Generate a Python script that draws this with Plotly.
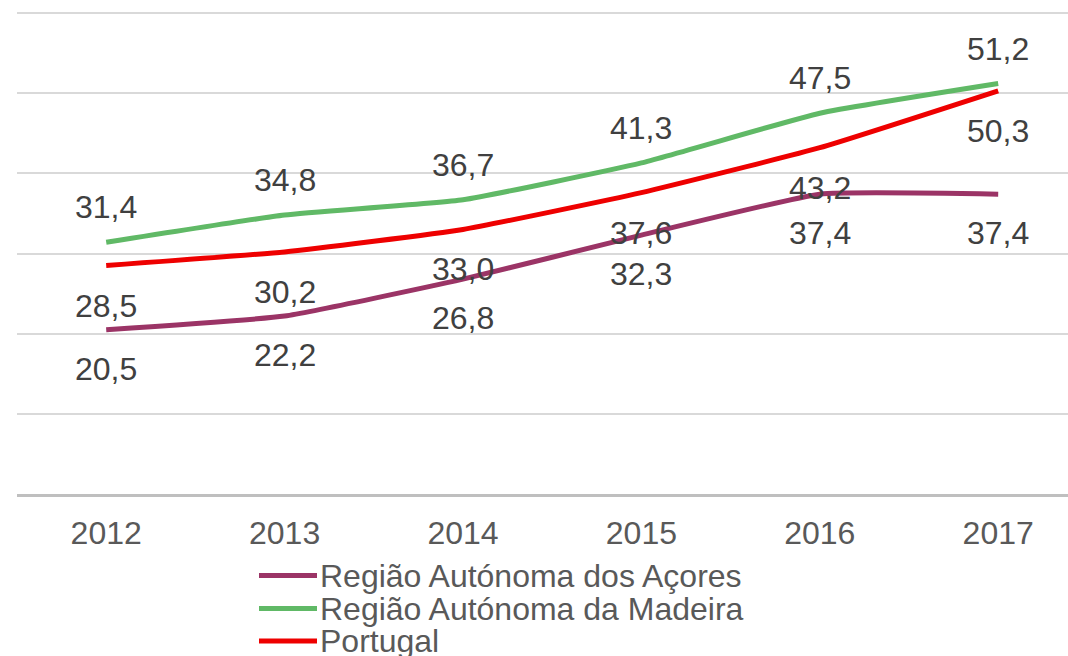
import plotly.graph_objects as go

years = ["2012", "2013", "2014", "2015", "2016", "2017"]
acores = [20.5, 22.2, 26.8, 32.3, 37.4, 37.4]
madeira = [31.4, 34.8, 36.7, 41.3, 47.5, 51.2]
portugal = [28.5, 30.2, 33.0, 37.6, 43.2, 50.3]

names = ["Região Autónoma dos Açores", "Região Autónoma da Madeira", "Portugal"]
colors = ["#9b3466", "#60b966", "#ee0000"]
series = [acores, madeira, portugal]
label_shift = [-39, 35, -40]  # below, above, below

FONT = "Liberation Sans, Arial, sans-serif"
W, H = 1068, 656
PX_PER_UNIT = 8.017
Y_TOP = 61
ML, MB = 17, 162
MT = round(13 - (Y_TOP - 60) * PX_PER_UNIT)
plot_h = H - MT - MB
plot_w = W - ML

fig = go.Figure()
for name, vals, col in zip(names, series, colors):
    fig.add_trace(go.Scatter(
        x=years, y=vals, mode="lines", name=name,
        line=dict(color=col, width=5, shape="spline", smoothing=0.4),
        showlegend=False, hoverinfo="skip"))

annotations = []
for vals, shift in zip(series, label_shift):
    for i, v in enumerate(vals):
        annotations.append(dict(
            x=i, y=v, xref="x", yref="y", text=f"{v:.1f}".replace(".", ","),
            showarrow=False, yshift=shift, xanchor="center", yanchor="middle",
            font=dict(family=FONT, size=32, color="#404040")))

# manual legend
def py2paper(py):
    return (H - MB - py) / plot_h

def px2paper(px):
    return (px - ML) / plot_w

shapes = []
legend_rows = [575.5, 608.5, 641]
for name, col, py in zip(names, colors, legend_rows):
    shapes.append(dict(type="line", xref="paper", yref="paper",
                       x0=px2paper(259), x1=px2paper(317),
                       y0=py2paper(py), y1=py2paper(py),
                       line=dict(color=col, width=5)))
    annotations.append(dict(x=px2paper(318), y=py2paper(py), xref="paper", yref="paper",
                            text=name, showarrow=False, xanchor="left", yanchor="middle",
                            font=dict(family=FONT, size=32, color="#595959")))

fig.update_layout(
    width=W, height=H,
    margin=dict(l=ML, r=0, t=MT, b=MB),
    plot_bgcolor="white", paper_bgcolor="white",
    showlegend=False,
    xaxis=dict(type="category", range=[-0.5, -0.5 + plot_w / 178.4],
               showgrid=False, showline=True, linecolor="#bfbfbf", linewidth=3,
               ticks="outside", ticklen=9, tickcolor="rgba(0,0,0,0)",
               tickfont=dict(family=FONT, size=32, color="#595959"), zeroline=False),
    yaxis=dict(range=[0, Y_TOP], dtick=10, showgrid=True, gridcolor="#d9d9d9", gridwidth=2,
               showticklabels=False, zeroline=False, showline=False),
    annotations=annotations, shapes=shapes,
)

fig.write_html("out.html", config={"displayModeBar": False},
               post_script="document.body.style.margin='0';document.body.style.overflow='hidden';")
